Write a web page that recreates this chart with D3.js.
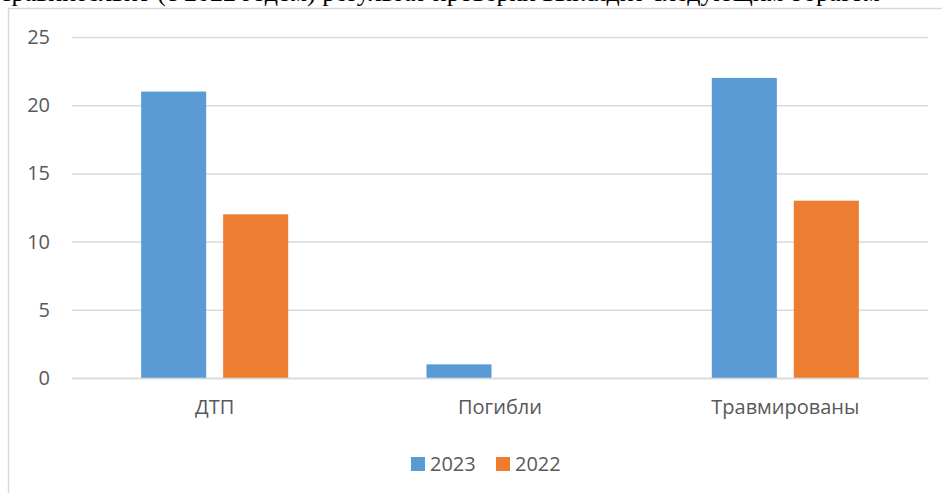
<!DOCTYPE html>
<html><head><meta charset="utf-8">
<script src="https://cdn.jsdelivr.net/npm/d3@7"></script>
<style>html,body{margin:0;padding:0;background:#fff;overflow:hidden}</style>
</head><body>
<svg id="c" width="942" height="493"></svg>
<script>
const categories = ["ДТП", "Погибли", "Травмированы"];
const seriesNames = ["2023", "2022"];
const values2023 = [21, 1, 22];
const values2022 = [12, 0, 13];
const yTicks = [0, 5, 10, 15, 20, 25];
const colors = ["#5b9bd5", "#ed7d31"];

(function () {
const svg = d3.select("#c");
const font = "'Open Sans', 'Noto Sans', sans-serif";

// clipped text line above chart (cut off at the top, as in the reference)
svg.append("text").attr("x", 0).attr("y", 1)
  .attr("font-family", "'Liberation Serif', serif").attr("font-size", 26).attr("fill", "#000")
  .text("сравнительно (с 2022 годом) результат проверки выглядит следующим образом");

// chart border
svg.append("rect").attr("x", 8.5).attr("y", 8.5).attr("width", 960).attr("height", 500)
  .attr("fill", "#fff").attr("stroke", "#d9d9d9").attr("stroke-width", 1.5);

const mLeft = 72, mRight = 928, mTop = 37, mBottom = 378;
const x = d3.scaleBand().domain(categories).range([mLeft, mRight]).paddingInner(0).paddingOuter(0);
const y = d3.scaleLinear().domain([0, 25]).range([mBottom, mTop]);
const x1 = d3.scaleBand().domain(seriesNames).range([0, x.bandwidth()]).paddingInner(0.207).paddingOuter(0.843);

const yAxis = d3.axisLeft(y).tickValues(yTicks).tickSize(-(mRight - mLeft)).tickPadding(22);
const gy = svg.append("g").attr("transform", `translate(${mLeft},0)`).call(yAxis);
gy.select(".domain").remove();
gy.selectAll(".tick line").attr("stroke", "#d9d9d9").attr("stroke-width", 1.5);
gy.selectAll(".tick text").attr("font-family", font).attr("font-size", 20).attr("fill", "#595959");

const data = categories.map((c, i) => ({c, vals: [values2023[i], values2022[i]]}));
const g = svg.append("g").selectAll("g").data(data).join("g")
  .attr("transform", d => `translate(${x(d.c)},0)`);
g.selectAll("rect").data(d => d.vals.map((v, j) => ({v, s: seriesNames[j], j})))
  .join("rect")
  .attr("x", d => x1(d.s)).attr("width", x1.bandwidth())
  .attr("y", d => y(d.v)).attr("height", d => y(0) - y(d.v))
  .attr("fill", d => colors[d.j]);

const xAxis = d3.axisBottom(x).tickSize(0).tickPadding(22);
const gx = svg.append("g").attr("transform", `translate(0,${mBottom})`).call(xAxis);
gx.select(".domain").attr("stroke", "#d9d9d9").attr("stroke-width", 1.5);
gx.selectAll(".tick text").attr("font-family", font).attr("font-size", 20).attr("fill", "#595959");

// legend
const legendX = [411, 496];
const lg = svg.append("g").selectAll("g").data(seriesNames).join("g")
  .attr("transform", (d, i) => `translate(${legendX[i]},457)`);
lg.append("rect").attr("width", 14).attr("height", 14).attr("fill", (d, i) => colors[i]);
lg.append("text").attr("x", 19).attr("y", 14).attr("font-family", font).attr("font-size", 20)
  .attr("fill", "#595959").text(d => d);
})();
</script>
</body></html>
